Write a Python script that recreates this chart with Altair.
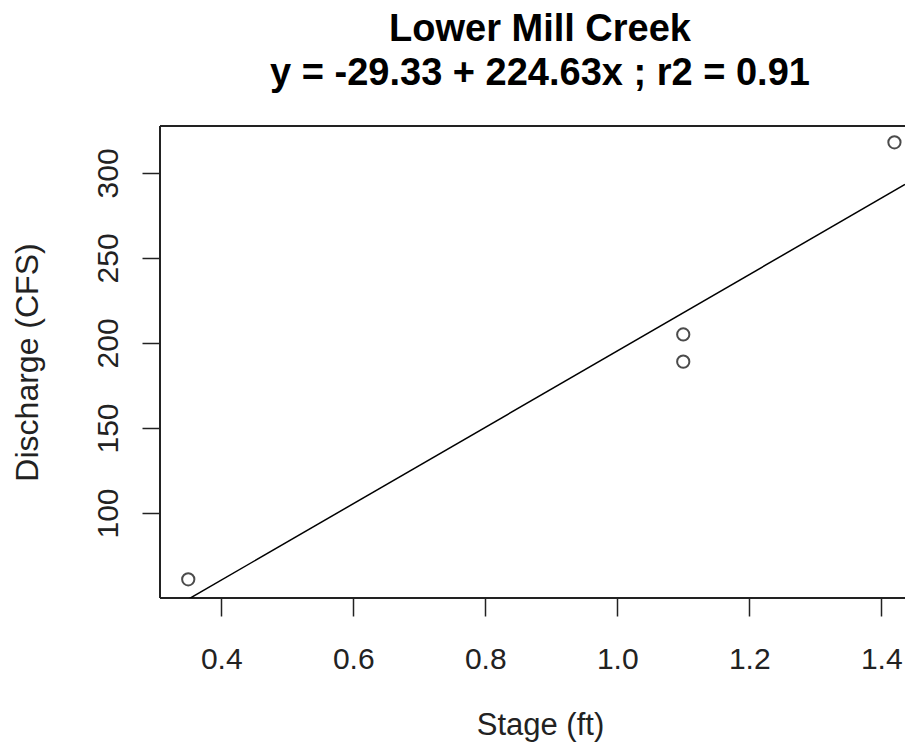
import altair as alt
import pandas as pd

# data
stage = [0.35, 1.10, 1.10, 1.42]
discharge = [61, 205, 189, 318]
intercept = -29.33
slope = 224.63
title_lines = ["Lower Mill Creek", "y = -29.33 + 224.63x ; r2 = 0.91"]
x_ticks = [0.4, 0.6, 0.8, 1.0, 1.2, 1.4]
y_ticks = [100, 150, 200, 250, 300]
x_domain = [0.3072, 1.436]
y_domain = [50, 327.6]

pts = pd.DataFrame({"stage": stage, "discharge": discharge})
fit = pd.DataFrame({"stage": x_domain,
                    "discharge": [intercept + slope * v for v in x_domain]})
one = pd.DataFrame({"k": [0]})

FONT = "Liberation Sans"
W, H = 745, 472
INK = "#222"

xscale = alt.Scale(domain=x_domain, nice=False, zero=False)
yscale = alt.Scale(domain=y_domain, nice=False, zero=False)

xaxis = alt.Axis(values=x_ticks, format=".1f", title="Stage (ft)", grid=False,
                 domain=False, tickSize=18, tickWidth=1.5, tickColor=INK,
                 labelFontSize=30, labelFont=FONT, labelColor=INK,
                 labelBaseline="alphabetic", labelPadding=52, labelFlush=False,
                 titleFontSize=31, titleFont=FONT, titleFontWeight="normal",
                 titleColor=INK, titleBaseline="alphabetic",
                 titleX=380, titleY=136, titleAlign="center")
yaxis = alt.Axis(values=y_ticks, title="Discharge (CFS)", grid=False,
                 domain=False, tickSize=18, tickWidth=1.5, tickColor=INK,
                 labelFontSize=30, labelFont=FONT, labelColor=INK,
                 labelAngle=-90, labelAlign="center", labelBaseline="alphabetic",
                 labelPadding=25, labelFlush=False,
                 titleFontSize=32, titleFont=FONT, titleFontWeight="normal",
                 titleColor=INK, titleAngle=-90, titleBaseline="alphabetic",
                 titleAlign="center", titleX=-123, titleY=H / 2)

points = alt.Chart(pts).mark_point(shape="circle", filled=False, color="black",
                                   size=150, strokeWidth=2).encode(
    x=alt.X("stage:Q", scale=xscale, axis=xaxis),
    y=alt.Y("discharge:Q", scale=yscale, axis=yaxis),
)

line = alt.Chart(fit).mark_line(color="black", strokeWidth=1.5, clip=True).encode(
    x=alt.X("stage:Q", scale=xscale),
    y=alt.Y("discharge:Q", scale=yscale),
)

# plot box (top, left, bottom; the right side lies beyond the picture)
box_top = alt.Chart(one).mark_rule(color=INK, strokeWidth=2).encode(
    x=alt.value(0), x2=alt.value(W), y=alt.value(0))
box_left = alt.Chart(one).mark_rule(color=INK, strokeWidth=2).encode(
    x=alt.value(0), y=alt.value(0), y2=alt.value(H))
box_bottom = alt.Chart(one).mark_rule(color=INK, strokeWidth=2).encode(
    x=alt.value(0), x2=alt.value(W), y=alt.value(H))

title1 = alt.Chart(one).mark_text(
    text=title_lines[0], font=FONT, fontSize=38, fontWeight="bold",
    color="black", align="center", baseline="alphabetic").encode(
    x=alt.value(380), y=alt.value(-85))
title2 = alt.Chart(one).mark_text(
    text=title_lines[1], font=FONT, fontSize=38, fontWeight="bold",
    color="black", align="center", baseline="alphabetic").encode(
    x=alt.value(380), y=alt.value(-41))

chart = alt.layer(box_top, box_left, box_bottom, line, points, title1, title2).properties(
    width=W, height=H,
    background="white",
    autosize=alt.AutoSizeParams(type="none"),
    padding={"left": 152, "top": 118, "right": 0, "bottom": 145},
).configure_view(stroke=None)

chart.save("out.html", embed_options={"renderer": "svg", "actions": False})
